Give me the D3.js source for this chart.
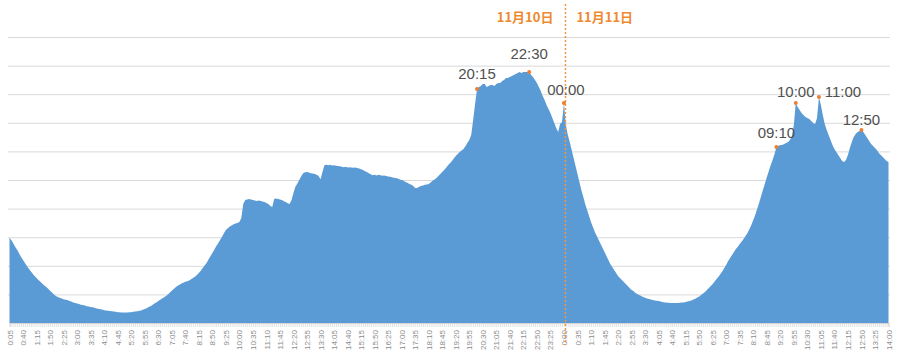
<!DOCTYPE html>
<html><head><meta charset="utf-8">
<script src="https://cdn.jsdelivr.net/npm/d3@7"></script>
<style>html,body{margin:0;padding:0;background:#fff;}svg{display:block;}</style>
</head><body>
<svg id="chart" width="900" height="358"></svg>
<script>
// Series values (5-minute intervals, 0:05 on Nov 10 through 14:00 on Nov 11), relative scale 0-100
const valuesNov10Night = [29.8,28.9,27.8,26.6,25.5,24.3,23.1,22.0,21.0,19.9,19.0,18.1,17.2,16.4,15.7,15.0,14.4,13.7,13.1,12.6,
12.0,11.3,10.7,10.0,9.4,9.1,8.8,8.6,8.3,8.1,8.0,7.7,7.5,7.2,7.0,6.8,6.6,6.4,6.3,6.1,
5.9,5.8,5.6,5.5,5.3,5.1,5.0,4.8,4.7,4.5,4.4,4.3,4.2,4.1,4.0,3.9,3.8,3.8,3.7,3.7,
3.7,3.7,3.8,3.8,3.9,4.0,4.1,4.2,4.4,4.6,4.9,5.2,5.6,5.9,6.3,6.8,7.2,7.7,8.1,8.6,
9.0,9.4,10.0,10.7,11.3,11.9,12.5,13.0,13.4,13.8,14.1,14.4,14.6,14.9,15.3,15.7,16.2,16.8,17.5,18.3,
19.2,20.1,21.0,22.2,23.3,24.5,25.6,26.8,27.9,29.0,30.2,31.4,32.5,33.1,33.7,34.1,34.5,34.8,35.0,35.3];
const valuesNov10Day = [36.7,41.6,43.0,43.2,43.4,43.2,43.0,42.8,42.7,42.8,42.7,42.5,42.3,42.0,41.6,40.9,40.6,43.4,43.5,43.4,
43.2,43.0,42.6,42.3,41.9,41.6,43.0,45.5,47.6,48.8,50.0,51.3,52.4,52.7,52.8,52.6,52.4,52.3,52.1,51.8,
51.4,50.3,52.8,55.2,55.3,55.2,55.3,55.1,55.2,55.0,54.9,54.8,54.6,54.5,54.6,54.4,54.5,54.4,54.3,54.4,
54.2,54.0,53.8,53.5,53.1,52.8,52.4,52.0,51.7,51.8,51.6,51.8,51.7,51.5,51.6,51.4,51.2,51.1,51.0,50.8,
50.7,50.5,50.2,50.0,49.7,49.3,49.0,48.6,48.3,47.9,47.2,47.2,47.6,47.9,48.1,48.3,48.4,48.6,49.1,49.7,
50.2,50.7,51.4,52.1,52.8,53.5,54.3,55.2,55.9,56.6,57.5,58.4,59.1,59.8,60.3,60.8,61.8,62.9,64.0,65.7,
71.0,76.6,81.8,82.5,82.9,83.6,83.6,82.5,82.9,83.2,83.2,82.9,83.6,83.9,83.9,84.6,85.0,85.7,85.7,86.0,
86.4,86.7,87.1,87.4,87.8,87.4,87.8,87.8,87.8,87.8,86.7,86.0,85.0,83.9,82.5,81.1,79.4,78.0,76.2,74.8,
73.4,71.7,69.9,68.2,66.8,69.6,70.3,76.9];
const valuesNov11 = [69.2,65.7,63.3,60.5,57.7,54.9,52.1,49.3,46.5,44.1,41.6,39.5,37.4,35.3,33.6,31.8,30.4,29.0,27.6,26.2,
24.8,23.4,22.0,20.6,19.6,18.5,17.5,16.4,15.7,15.0,14.3,13.6,12.9,12.2,11.5,11.2,10.5,10.1,9.8,9.4,
9.1,8.8,8.6,8.4,8.2,8.0,7.9,7.8,7.7,7.5,7.3,7.2,7.2,7.1,7.0,7.0,7.0,7.0,7.0,7.1,
7.2,7.2,7.3,7.5,7.7,7.9,8.2,8.5,8.9,9.3,9.8,10.3,10.8,11.5,12.2,12.9,13.6,14.5,15.4,16.2,
17.1,18.1,19.2,20.4,21.7,22.7,23.8,24.8,25.9,26.7,27.6,28.5,29.4,30.4,31.5,32.8,34.3,36.0,37.8,39.9,
42.0,44.2,46.5,48.7,51.0,53.1,55.2,57.0,59.1,61.5,61.9,62.2,62.2,62.6,62.9,63.3,64.0,65.4,69.2,76.9,
75.5,74.5,73.4,72.7,72.0,71.7,71.3,70.6,69.9,69.6,71.7,79.0,76.2,72.7,69.6,67.5,65.7,64.0,62.2,60.8,
59.8,58.7,57.7,56.6,56.3,57.0,58.7,61.2,63.3,65.0,66.1,66.8,67.1,67.5,66.8,65.7,64.7,63.6,62.6,61.9,
61.2,60.5,59.4,58.7,58.0,57.3,56.6,56.3];
const values = valuesNov10Night.concat(valuesNov10Day, valuesNov11);

// Tick labels (every 35 minutes)
const tickLabels = ["0:05","0:40","1:15","1:50","2:25","3:00","3:35","4:10","4:45","5:20","5:55","6:30","7:05","7:40",
"8:15","8:50","9:25","10:00","10:35","11:10","11:45","12:20","12:55","13:30","14:05","14:40","15:15","15:50","16:25",
"17:00","17:35","18:10","18:45","19:20","19:55","20:30","21:05","21:40","22:15","22:50","23:25","0:00","0:35","1:10",
"1:45","2:20","2:55","3:30","4:05","4:40","5:15","5:50","6:25","7:00","7:35","8:10","8:45","9:20","9:55","10:30",
"11:05","11:40","12:15","12:50","13:25","14:00"];
const tickEvery = 7;

// Annotated peaks: label, category index
const peakLabels = ["20:15","22:30","00:00","09:10","10:00","11:00","12:50"];
const peakIndex = [242,269,287,397,407,419,441];
const dateLabels = ["11月10日","11月11日"];
const dayBreakIndex = 287;

const svg = d3.select("#chart");
const n = values.length;
const categories = d3.range(n);

const x = d3.scalePoint().domain(categories).range([9.5, 888.5]);
const y = d3.scaleLinear().domain([0, 100]).range([323, 37]);

// gridlines
svg.append("g").selectAll("line").data(d3.range(10, 101, 10)).join("line")
  .attr("x1", 8).attr("x2", 890)
  .attr("y1", d => y(d) + 0.5).attr("y2", d => y(d) + 0.5)
  .attr("stroke", "#d9d9d9").attr("stroke-width", 1);

// area
const area = d3.area().x(i => x(i)).y0(y(0)).y1(i => y(values[i]));
svg.append("path").datum(categories).attr("d", area).attr("fill", "#5b9bd5");

// axis
const axis = d3.axisBottom(x).tickValues(categories).tickSize(4)
  .tickFormat(i => i % tickEvery === 0 ? tickLabels[i / tickEvery] : "");
const gx = svg.append("g").attr("transform", `translate(0,${y(0)})`).call(axis);
gx.select(".domain").attr("stroke", "#d9d9d9");
gx.selectAll(".tick line").attr("stroke", "#cfcfcf").attr("stroke-width", 0.6);
gx.selectAll(".tick text")
  .attr("transform", "rotate(-90)")
  .attr("x", -7).attr("y", 0).attr("dy", "0.32em")
  .attr("text-anchor", "end")
  .attr("font-family", "Liberation Sans, Arial, sans-serif")
  .attr("font-size", 8).attr("fill", "#8c8c8c");

// day break dashed line
const xb = x(dayBreakIndex) + 1.5;
svg.append("line").attr("x1", xb).attr("x2", xb).attr("y1", 4).attr("y2", y(0) + 22)
  .attr("stroke", "#f2953f").attr("stroke-width", 1.5).attr("stroke-dasharray", "2,2");
svg.append("text").attr("x", xb - 12).attr("y", 22).attr("text-anchor", "end")
  .attr("font-family", "Noto Sans CJK SC, sans-serif").attr("font-weight", "bold")
  .attr("font-size", 13).attr("fill", "#ee8a2e").text(dateLabels[0]);
svg.append("text").attr("x", xb + 11).attr("y", 22).attr("text-anchor", "start")
  .attr("font-family", "Noto Sans CJK SC, sans-serif").attr("font-weight", "bold")
  .attr("font-size", 13).attr("fill", "#ee8a2e").text(dateLabels[1]);

// peak markers and labels
const labelDx = [0,0,2,0,0,24,0];
const labelDy = [-10,-13,-8,-9,-6,0,-5];
const pk = svg.append("g");
peakIndex.forEach((idx, k) => {
  pk.append("circle").attr("cx", x(idx)).attr("cy", y(values[idx])).attr("r", 2)
    .attr("fill", "#ed7d31");
  pk.append("text").attr("x", x(idx) + labelDx[k]).attr("y", y(values[idx]) + labelDy[k])
    .attr("text-anchor", "middle")
    .attr("font-family", "Liberation Sans, Arial, sans-serif")
    .attr("font-size", 15).attr("fill", "#505050").text(peakLabels[k]);
});
</script>
</body></html>
